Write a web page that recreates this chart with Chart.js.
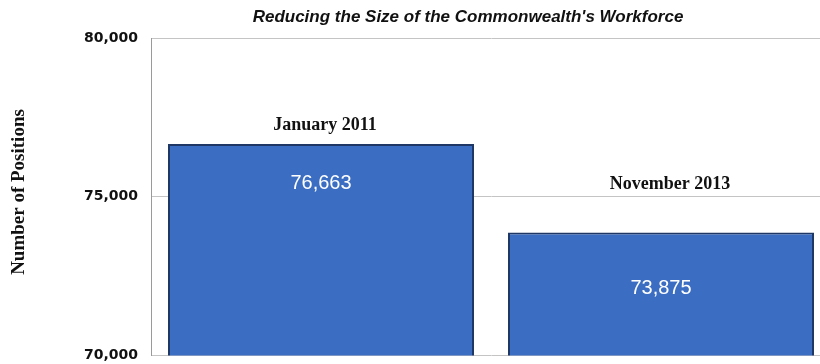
<!DOCTYPE html>
<html>
<head>
<meta charset="utf-8">
<script src="https://cdn.jsdelivr.net/npm/chart.js@4"></script>
<style>
  html, body { margin: 0; padding: 0; background: #fff; overflow: hidden; }
  #wrap { width: 840px; height: 364px; overflow: hidden; }
</style>
</head>
<body>
<div id="wrap"><canvas id="myBarchart" width="840" height="377"></canvas></div>
<script>
// data
const categories = ["January 2011", "November 2013"];
const positions = [76663, 73875];
const tickValues = [70000, 75000, 80000];

// draws title, axis title, category names above bars and values inside bars
const labelsPlugin = {
  id: "labels",
  afterDatasetsDraw(chart, args, opts) {
    const ctx = chart.ctx;
    const meta = chart.getDatasetMeta(0);
    ctx.save();
    ctx.textAlign = "center";
    ctx.textBaseline = "middle";

    ctx.fillStyle = "#111";
    ctx.font = "italic bold 17px 'Liberation Sans'";
    ctx.fillText("Reducing the Size of the Commonwealth's Workforce", 468, 17);

    ctx.save();
    ctx.translate(19, 192);
    ctx.rotate(-Math.PI / 2);
    ctx.font = "bold 19px 'Liberation Serif'";
    ctx.fillText("Number of Positions", 0, 0);
    ctx.restore();

    meta.data.forEach(function (bar, i) {
      ctx.fillStyle = "#111";
      ctx.font = "bold 18px 'Liberation Serif'";
      ctx.fillText(chart.data.labels[i], bar.x + opts.nameDx[i], bar.y - opts.nameDy[i]);
      ctx.fillStyle = "#fff";
      ctx.font = "20px 'Liberation Sans'";
      ctx.fillText(chart.data.datasets[0].data[i].toLocaleString("en-US"), bar.x, bar.y + opts.valueDy[i]);
    });
    ctx.restore();
  }
};

const config = {
  type: "bar",
  data: {
    labels: categories,
    datasets: [
      {
        data: positions,
        backgroundColor: "#3b6dc2",
        borderColor: "#1f3764",
        borderWidth: 2,
        borderSkipped: false,
        categoryPercentage: 0.9,
        barPercentage: 1,
      },
    ],
  },
  plugins: [labelsPlugin],
  options: {
    responsive: false,
    animation: false,
    layout: {
      padding: { top: 38, right: 9, bottom: 9, left: 0 },
    },
    plugins: {
      legend: { display: false },
      tooltip: { enabled: false },
      labels: {
        nameDx: [4, 9],
        nameDy: [19, 48],
        valueDy: [40, 56],
      },
    },
    scales: {
      x: {
        display: false,
      },
      y: {
        min: 70000,
        max: 80000,
        afterFit: function (scale) { scale.width = 151; },
        afterBuildTicks: function (scale) {
          scale.ticks = tickValues.map(function (v) { return { value: v }; });
        },
        ticks: {
          padding: 13,
          color: "#111",
          font: { family: "'DejaVu Sans'", weight: "bold", size: 14 },
          callback: function (v) { return v.toLocaleString("en-US"); },
        },
        grid: { color: "#c4c4c4", drawTicks: false },
        border: { display: true, color: "#9a9a9a" },
      },
    },
  },
};

const myChart = new Chart(document.getElementById("myBarchart"), config);
</script>
</body>
</html>
